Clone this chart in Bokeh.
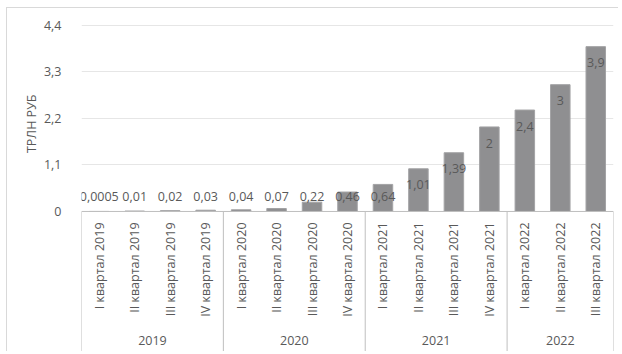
import math
from bokeh.plotting import figure
from bokeh.models import Range1d, FixedTicker, CustomJSTickFormatter, Span, Title, ColumnDataSource
from bokeh.core.properties import value
from bokeh.embed import file_html
from bokeh.resources import INLINE

# ---- data ----
years = ["2019", "2019", "2019", "2019",
         "2020", "2020", "2020", "2020",
         "2021", "2021", "2021", "2021",
         "2022", "2022", "2022"]
quarters = ["I квартал 2019", "II квартал 2019", "III квартал 2019", "IV квартал 2019",
            "I квартал 2020", "II квартал 2020", "III квартал 2020", "IV квартал 2020",
            "I квартал 2021", "II квартал 2021", "III квартал 2021", "IV квартал 2021",
            "I квартал 2022", "II квартал 2022", "III квартал 2022"]
values = [0.0005, 0.01, 0.02, 0.03,
          0.04, 0.07, 0.22, 0.46,
          0.64, 1.01, 1.39, 2.0,
          2.4, 3.0, 3.9]
value_labels = ["0,0005", "0,01", "0,02", "0,03",
                "0,04", "0,07", "0,22", "0,46",
                "0,64", "1,01", "1,39", "2",
                "2,4", "3", "3,9"]
y_ticks = [0, 1.1, 2.2, 3.3, 4.4]
y_title = "ТРЛН РУБ"

FONT = "Open Sans"
TXT = "#595959"
FS = "12.5px"
FSQ = "12.5px"

n = len(values)
idx = list(range(n))

Y0, Y1 = -3.336, 4.66
p = figure(width=612, height=344, output_backend="svg", toolbar_location=None,
           x_range=Range1d(-0.5, n - 0.5), y_range=Range1d(Y0, Y1),
           min_border_left=74, min_border_right=6, min_border_top=6, min_border_bottom=0)
p.outline_line_color = None
p.xaxis.visible = False
p.xgrid.visible = False
p.styles = {"margin-left": "6px", "margin-top": "7px",
            "border-top": "1px solid #d9d9d9", "border-left": "1px solid #d9d9d9"}

ax = p.yaxis[0]
ax.ticker = FixedTicker(ticks=y_ticks)
ax.formatter = CustomJSTickFormatter(code="return tick == 0 ? '0' : (Math.round(tick*10)/10).toString().replace('.', ',');")
ax.axis_line_color = None
ax.major_tick_line_color = None
ax.minor_tick_line_color = None
ax.major_label_standoff = 14
ax.major_label_text_font = FONT
ax.major_label_text_font_size = FS
ax.major_label_text_color = TXT
p.ygrid.ticker = FixedTicker(ticks=y_ticks[1:])
p.ygrid.grid_line_color = "#e6e6e6"

# bars
src = ColumnDataSource(dict(x=idx, top=values, lab=value_labels,
                            ly=[max(v - 0.38, 0.355) for v in values],
                            q=quarters))
p.vbar(x="x", top="top", width=0.55, source=src, fill_color="#8f8f91",
       line_color="#a3a3a5", line_width=1)

# data labels
p.text(x="x", y="ly", text="lab", source=src, text_align="center", text_baseline="middle",
       text_font=value(FONT), text_font_size=FS, text_color=TXT)

# axis line at 0
p.add_layout(Span(location=0, dimension="width", line_color="#bfbfbf", line_width=1))

# category table: quarter labels
p.text(x="x", y=value(-0.26), text="q", source=src, angle=math.pi / 2,
       text_align="right", text_baseline="middle",
       text_font=value(FONT), text_font_size=FSQ, text_color=TXT)

# group boundaries and year labels
uniq = []
counts = []
for y in years:
    if not uniq or uniq[-1] != y:
        uniq.append(y)
        counts.append(0)
    counts[-1] += 1
bounds = [-0.5]
for c in counts:
    bounds.append(bounds[-1] + c)
p.segment(x0=bounds, y0=[0] * len(bounds), x1=bounds, y1=[Y0] * len(bounds),
          line_color="#bfbfbf", line_width=1)
centers = [(bounds[i] + bounds[i + 1]) / 2 for i in range(len(uniq))]
p.text(x=centers, y=[-3.05] * len(uniq), text=uniq, text_align="center", text_baseline="middle",
       text_font=value(FONT), text_font_size=FSQ, text_color=TXT)

# y title (left-side title, aligned to the top and pushed down to the 0..4.4 band middle)
p.add_layout(Title(text=y_title, align="right", offset=80, text_font=FONT,
                   text_font_size=FS, text_font_style="normal", text_color=TXT,
                   standoff=2), "left")

open("out.html", "w").write(file_html(p, INLINE))
